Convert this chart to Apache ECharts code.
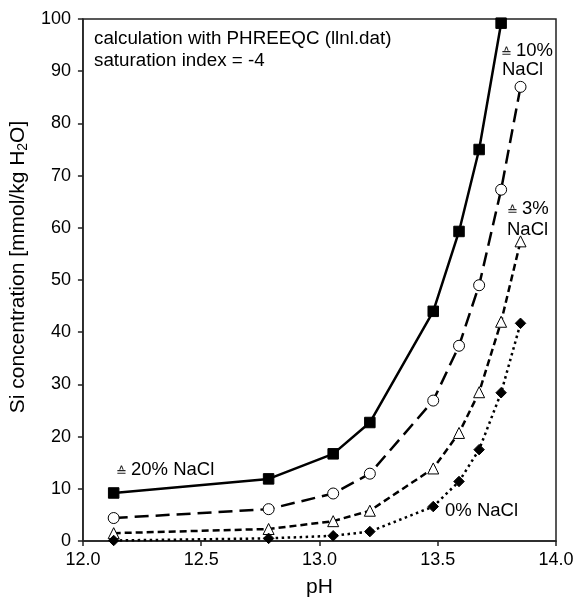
<!DOCTYPE html>
<html>
<head>
<meta charset="utf-8">
<script src="https://cdn.jsdelivr.net/npm/echarts@6/dist/echarts.min.js"></script>
<style>
  html, body { margin: 0; padding: 0; background: #fff; }
  #chart { width: 586px; height: 603px; }
</style>
</head>
<body>
<div id="chart"></div>
<script>
// pH values of the calculated points
const phValues = [12.13, 12.785, 13.058, 13.213, 13.481, 13.59, 13.675, 13.768, 13.85];

// Si concentration [mmol/kg H2O] per NaCl content
const si20 = [9.2, 11.9, 16.7, 22.7, 44.0, 59.3, 75.0, 99.2];
const si10 = [4.4, 6.1, 9.1, 12.9, 26.9, 37.4, 49.0, 67.3, 87.0];
const si3  = [1.5, 2.3, 3.8, 5.8, 13.9, 20.7, 28.5, 42.0, 57.4];
const si0  = [0.1, 0.5, 1.0, 1.8, 6.6, 11.4, 17.5, 28.4, 41.7];

const xTicks = { min: 12.0, max: 14.0, step: 0.5 };
const yTicks = { min: 0, max: 100, step: 10 };

const pairs = (ys) => ys.map((y, i) => [phValues[i], y]);

const font = 'Arial, "Liberation Sans", sans-serif';
const ink = '#000';
const noteSize = 18.5;

const chart = echarts.init(document.getElementById('chart'), null, { renderer: 'canvas' });

function lineSeries(name, ys, dash, symbol, size, fill) {
  return {
    name, type: 'line', data: pairs(ys),
    symbol, symbolSize: size, showSymbol: true,
    lineStyle: { color: ink, width: 2.5, type: dash },
    itemStyle: { color: fill, borderColor: ink, borderWidth: 1 },
    emphasis: { disabled: true },
    animation: false, z: 3
  };
}

// text annotations placed in pixel space
function note(left, top, text, size) {
  const fs = size || noteSize;
  return {
    type: 'text', left, top, z: 10,
    style: {
      text,
      fill: ink,
      font: fs + 'px ' + font,
      rich: {
        e: { fontSize: 13, fontFamily: font, fill: '#222', padding: [0, 4, 0, 0], verticalAlign: 'bottom' },
        t: { fontSize: fs, fontFamily: font, fill: ink }
      }
    }
  };
}

chart.setOption({
  animation: false,
  backgroundColor: '#fff',
  grid: {
    left: 81.5, right: 30, top: 19, bottom: 60.5,
    show: true, borderColor: '#222', borderWidth: 1.5, backgroundColor: 'transparent'
  },
  xAxis: {
    type: 'value', min: xTicks.min, max: xTicks.max, interval: xTicks.step,
    name: 'pH', nameLocation: 'middle', nameGap: 36,
    nameTextStyle: { fontSize: 21, fontFamily: font, color: ink },
    axisLine: { show: true, onZero: false, lineStyle: { color: '#222', width: 1.5 } },
    axisTick: { show: true, inside: false, length: 5, lineStyle: { color: '#222', width: 1.5 } },
    axisLabel: { fontSize: 18, fontFamily: font, color: ink, margin: 10,
                 formatter: (v) => v.toFixed(1) },
    splitLine: { show: false }
  },
  yAxis: {
    type: 'value', min: yTicks.min, max: yTicks.max, interval: yTicks.step,
    name: '{t|Si concentration [mmol/kg H}{s|2}{t|O]}',
    nameLocation: 'middle', nameGap: 42, nameRotate: 90,
    nameTextStyle: {
      fontSize: 21, fontFamily: font, color: ink,
      padding: [0, 0, 0, 26],
      rich: {
        t: { fontSize: 21, fontFamily: font, color: ink },
        s: { fontSize: 14, fontFamily: font, color: ink, verticalAlign: 'bottom', padding: [9, 0, 0, 0] }
      }
    },
    axisLine: { show: true, lineStyle: { color: '#222', width: 1.5 } },
    axisTick: { show: true, inside: false, length: 5, lineStyle: { color: '#222', width: 1.5 } },
    axisLabel: { fontSize: 18, fontFamily: font, color: ink, margin: 12 },
    splitLine: { show: false }
  },
  series: [
    lineSeries('20% NaCl', si20, 'solid', 'rect', 10.5, ink),
    lineSeries('10% NaCl', si10, [14, 7], 'circle', 11, '#fff'),
    lineSeries('3% NaCl', si3, [7, 4], 'triangle', 11, '#fff'),
    lineSeries('0% NaCl', si0, [2.5, 3.5], 'diamond', 10.5, ink)
  ],
  graphic: [
    note(94, 29, 'calculation with PHREEQC (llnl.dat)', 18.8),
    note(94, 51, 'saturation index = -4', 18.8),
    note(501, 41, '{e|≙}{t|10%}'),
    note(502, 60, 'NaCl'),
    note(507, 199, '{e|≙}{t|3%}'),
    note(507, 220, 'NaCl'),
    note(116, 460, '{e|≙}{t|20% NaCl}'),
    note(445, 501, '0% NaCl')
  ]
});
</script>
</body>
</html>
